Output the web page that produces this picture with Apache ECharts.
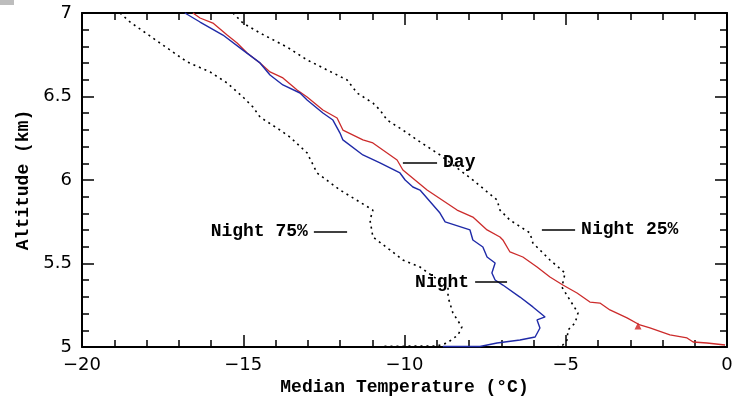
<!DOCTYPE html>
<html>
<head>
<meta charset="utf-8">
<script src="https://cdn.jsdelivr.net/npm/echarts@6/dist/echarts.min.js"></script>
<style>
  html, body { margin: 0; padding: 0; background: #ffffff; }
  #chart { width: 738px; height: 417px; }
</style>
</head>
<body>
<div id="chart"></div>
<script>
// Median temperature profiles, [temperature °C, altitude km]
const dayProfile = [
  [-16.56, 7.000], [-16.34, 6.970], [-15.94, 6.940], [-15.50, 6.868], [-15.19, 6.820],
  [-14.88, 6.760], [-14.48, 6.701], [-14.17, 6.647], [-13.77, 6.611], [-13.33, 6.539],
  [-13.02, 6.497], [-12.53, 6.419], [-12.09, 6.371], [-11.91, 6.299], [-11.29, 6.240],
  [-10.98, 6.222], [-10.23, 6.120], [-10.05, 6.060], [-9.30, 5.940], [-8.37, 5.820],
  [-7.88, 5.778], [-7.44, 5.701], [-7.04, 5.659], [-6.95, 5.641], [-6.73, 5.569],
  [-6.33, 5.539], [-5.89, 5.479], [-5.49, 5.419], [-5.09, 5.371], [-4.65, 5.323],
  [-4.25, 5.269], [-3.94, 5.263], [-3.63, 5.222], [-3.10, 5.174], [-2.70, 5.132],
  [-2.39, 5.114], [-1.77, 5.072], [-1.24, 5.054], [-1.05, 5.030], [-0.62, 5.024],
  [-0.06, 5.012]
];
const nightProfile = [
  [-16.81, 7.000], [-16.34, 6.946], [-15.63, 6.868], [-15.01, 6.778], [-14.48, 6.701],
  [-14.17, 6.629], [-13.77, 6.569], [-13.24, 6.521], [-13.02, 6.479], [-12.53, 6.401],
  [-12.22, 6.359], [-12.00, 6.281], [-11.91, 6.240], [-11.29, 6.150], [-10.76, 6.102],
  [-10.14, 6.042], [-9.98, 6.000], [-9.74, 5.958], [-9.52, 5.940], [-8.90, 5.802],
  [-8.74, 5.749], [-7.97, 5.701], [-7.88, 5.641], [-7.57, 5.599], [-7.44, 5.539],
  [-7.19, 5.503], [-7.29, 5.443], [-7.19, 5.401], [-6.95, 5.371], [-6.42, 5.299],
  [-6.02, 5.240], [-5.64, 5.180], [-5.89, 5.162], [-5.80, 5.114], [-5.95, 5.060],
  [-6.42, 5.042], [-7.13, 5.024], [-7.66, 5.003], [-8.81, 5.003]
];
const night75Profile = [
  [-18.82, 7.000], [-18.51, 6.946], [-17.58, 6.820], [-16.74, 6.707], [-16.03, 6.647],
  [-15.50, 6.581], [-15.01, 6.497], [-14.70, 6.437], [-14.48, 6.377], [-13.86, 6.299],
  [-13.55, 6.257], [-13.02, 6.162], [-12.71, 6.042], [-12.00, 5.940], [-10.98, 5.820],
  [-11.07, 5.760], [-10.98, 5.659], [-10.45, 5.581], [-10.05, 5.521], [-9.52, 5.479],
  [-8.65, 5.359], [-8.65, 5.299], [-8.50, 5.204], [-8.22, 5.120], [-8.34, 5.072],
  [-8.68, 5.024], [-8.99, 5.006], [-10.67, 5.004]
];
const night25Profile = [
  [-15.32, 7.000], [-15.01, 6.940], [-14.48, 6.880], [-13.64, 6.796], [-13.02, 6.719],
  [-12.40, 6.659], [-11.78, 6.599], [-11.47, 6.521], [-10.98, 6.461], [-10.76, 6.419],
  [-10.54, 6.359], [-10.05, 6.299], [-9.61, 6.240], [-8.90, 6.150], [-7.88, 6.000],
  [-7.13, 5.880], [-7.04, 5.820], [-6.73, 5.760], [-6.11, 5.683], [-6.02, 5.623],
  [-5.49, 5.521], [-5.02, 5.443], [-5.12, 5.359], [-4.87, 5.281], [-4.62, 5.204],
  [-4.71, 5.144], [-4.93, 5.102], [-4.96, 5.042], [-5.09, 5.012], [-5.24, 5.004]
];
// Marker on the day curve
const dayMarker = [[-2.76, 5.126]];

// Curve labels: text, leader line from..to (°C) at altitude, side of the text
const labelTexts = ['Day', 'Night', 'Night 75%', 'Night 25%'];
const labelFrom = [-10.05, -7.81, -12.81, -5.74];
const labelTo = [-8.99, -6.82, -11.78, -4.71];
const labelAlt = [6.102, 5.389, 5.689, 5.701];
const labelSide = ['end', 'start', 'start', 'end'];

const xTicks = { min: -20, max: 0, interval: 5 };
const yTicks = { min: 5, max: 7, interval: 0.5 };

const MONO = '"Liberation Mono", "Courier New", monospace';
const SANS = '"DejaVu Sans", sans-serif';

const chart = echarts.init(document.getElementById('chart'), null, { renderer: 'canvas' });

const tickCommon = {
  axisLine: { show: true, onZero: false, lineStyle: { color: '#000', width: 2 } },
  axisTick: { show: true, inside: true, length: 12, lineStyle: { color: '#000', width: 1.5 } },
  minorTick: { show: true, splitNumber: 5, length: 7, lineStyle: { color: '#000', width: 1.5 } },
  splitLine: { show: false },
  minorSplitLine: { show: false }
};

function minusFmt(v) {
  return v < 0 ? '\u2212' + Math.abs(v) : String(v);
}

const labelLines = labelTexts.map((t, i) => [
  {
    coord: [labelFrom[i], labelAlt[i]],
    label: {
      show: true,
      position: labelSide[i],
      formatter: t,
      distance: 6,
      color: '#000',
      fontFamily: MONO,
      fontWeight: 'bold',
      fontSize: 18
    }
  },
  { coord: [labelTo[i], labelAlt[i]] }
]);

chart.setOption({
  backgroundColor: '#ffffff',
  animation: false,
  grid: { left: 82, right: 11, top: 13, bottom: 70, containLabel: false },
  xAxis: [
    Object.assign({
      type: 'value', position: 'bottom',
      min: xTicks.min, max: xTicks.max, interval: xTicks.interval,
      name: 'Median Temperature (°C)', nameLocation: 'middle', nameGap: 31,
      nameTextStyle: { color: '#000', fontFamily: MONO, fontWeight: 'bold', fontSize: 18 },
      axisLabel: { color: '#000', fontFamily: SANS, fontSize: 18, margin: 9, formatter: minusFmt }
    }, tickCommon),
    Object.assign({
      type: 'value', position: 'top',
      min: xTicks.min, max: xTicks.max, interval: xTicks.interval,
      axisLabel: { show: false }
    }, tickCommon)
  ],
  yAxis: [
    Object.assign({
      type: 'value', position: 'left',
      min: yTicks.min, max: yTicks.max, interval: yTicks.interval,
      name: 'Altitude (km)', nameLocation: 'middle', nameGap: 44, nameRotate: 90,
      nameTextStyle: { color: '#000', fontFamily: MONO, fontWeight: 'bold', fontSize: 18 },
      axisLabel: { color: '#000', fontFamily: SANS, fontSize: 18, margin: 10 }
    }, tickCommon),
    Object.assign({
      type: 'value', position: 'right',
      min: yTicks.min, max: yTicks.max, interval: yTicks.interval,
      axisLabel: { show: false }
    }, tickCommon)
  ],
  graphic: [
    { type: 'rect', left: 0, top: 0, shape: { width: 14, height: 5 }, style: { fill: '#bdbdbd' } }
  ],
  series: [
    {
      name: 'Night 75%', type: 'line', data: night75Profile, showSymbol: false, clip: false,
      lineStyle: { color: '#000', width: 1.6, type: [2, 4] }, z: 2
    },
    {
      name: 'Night 25%', type: 'line', data: night25Profile, showSymbol: false, clip: false,
      lineStyle: { color: '#000', width: 1.6, type: [2, 4] }, z: 2
    },
    {
      name: 'Day', type: 'line', data: dayProfile, showSymbol: false, clip: false,
      lineStyle: { color: '#cc2b2b', width: 1.3 }, z: 3
    },
    {
      name: 'Night', type: 'line', data: nightProfile, showSymbol: false, clip: false,
      lineStyle: { color: '#1f2aa8', width: 1.4 }, z: 4,
      markLine: {
        silent: true, symbol: 'none',
        lineStyle: { color: '#000', width: 1.5, type: 'solid' },
        data: labelLines
      }
    },
    {
      name: 'Day marker', type: 'scatter', data: dayMarker,
      symbol: 'triangle', symbolSize: 7, itemStyle: { color: '#d01f1f' }, z: 5
    }
  ]
});
</script>
</body>
</html>
